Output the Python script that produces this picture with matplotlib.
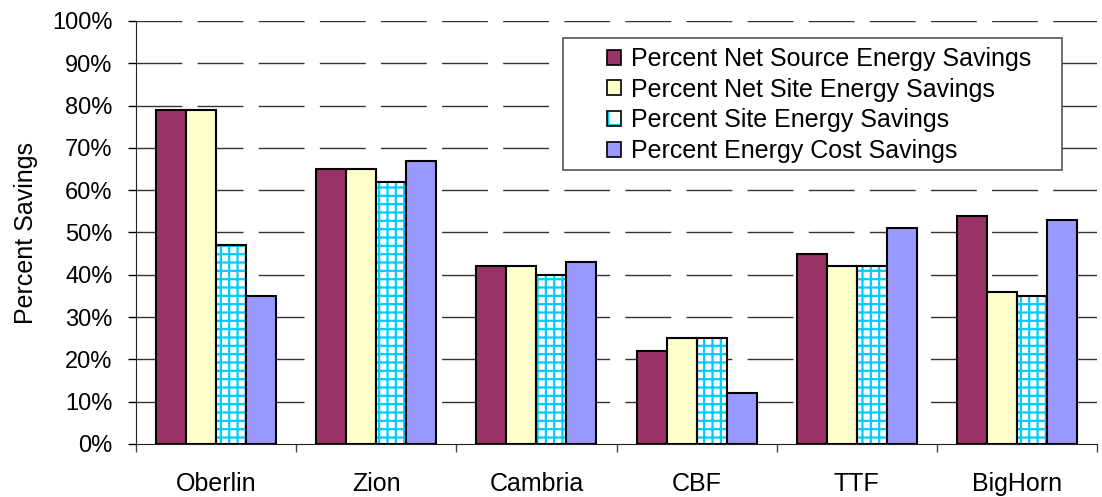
import matplotlib.pyplot as plt
import numpy as np
from matplotlib.patches import Patch, Rectangle

plt.rcParams['font.family'] = ['Liberation Sans', 'DejaVu Sans']
plt.rcParams['hatch.linewidth'] = 1.6

sites = ["Oberlin", "Zion", "Cambria", "CBF", "TTF", "BigHorn"]
net_source = [79, 65, 42, 22, 45, 54]
net_site = [79, 65, 42, 25, 42, 36]
site = [47, 62, 40, 25, 42, 35]
cost = [35, 67, 43, 12, 51, 53]

series = [
    ("Percent Net Source Energy Savings", net_source, "#993366", None),
    ("Percent Net Site Energy Savings", net_site, "#FFFFCC", None),
    ("Percent Site Energy Savings", site, "white", "++"),
    ("Percent Energy Cost Savings", cost, "#9999FF", None),
]

fig = plt.figure(figsize=(11.02, 4.97), dpi=100)
ax = fig.add_axes([136 / 1102, 53 / 497, 961 / 1102, 423 / 497])

x = np.arange(len(sites))
w = 0.1875
handles = []
for i, (name, vals, col, hatch) in enumerate(series):
    pos = x + (i - 1.5) * w
    if hatch:
        ax.bar(pos, vals, w, color=col, edgecolor="#00CCFF", hatch=hatch, lw=0, zorder=2)
        ax.bar(pos, vals, w, fill=False, edgecolor="black", lw=1.5, zorder=3)
        h = (Patch(facecolor=col, edgecolor="#00CCFF", hatch="+", lw=0),
             Patch(fill=False, edgecolor="black", lw=1.2))
    else:
        ax.bar(pos, vals, w, color=col, edgecolor="black", lw=1.5, zorder=3)
        h = Patch(facecolor=col, edgecolor="black", lw=1.2)
    handles.append(h)

ax.set_xlim(-0.5, len(sites) - 0.5)
ax.set_ylim(0, 100)
ax.set_yticks(np.arange(0, 101, 10))
ax.set_yticklabels([f"{v}%" for v in range(0, 101, 10)], fontsize=17)
ax.set_xticks(x)
ax.set_xticklabels(sites, fontsize=18)
ax.tick_params(axis="x", length=0, pad=20)
ax.set_xticks(np.arange(-0.5, len(sites)), minor=True)
ax.tick_params(axis="x", which="minor", length=6, width=1, color="#444444")
ax.tick_params(axis="y", length=6, width=1, pad=11)
ax.set_ylabel("Percent Savings", fontsize=18, labelpad=10)

for v in range(10, 101, 10):
    ax.axhline(v, color="#333333", lw=1, ls=(0, (33, 11)), zorder=1)

for s in ["top", "right"]:
    ax.spines[s].set_visible(False)
ax.spines["left"].set_color("#222222")
ax.spines["bottom"].set_color("#222222")

fig.patches.append(Rectangle((563 / 1102, 1 - 170 / 497), 499 / 1102, 132 / 497,
                             transform=fig.transFigure, facecolor="white",
                             edgecolor="#555555", lw=1.2, zorder=5))
leg = fig.legend(handles, [s[0] for s in series], loc="upper left",
                 bbox_to_anchor=(587 / 1102, 1 - 27 / 497), frameon=False,
                 fontsize=18, handlelength=0.55, handleheight=0.55,
                 handletextpad=0.4, labelspacing=0.27, borderpad=0.3)
leg.set_zorder(6)

fig.savefig("out.png", dpi=100)
